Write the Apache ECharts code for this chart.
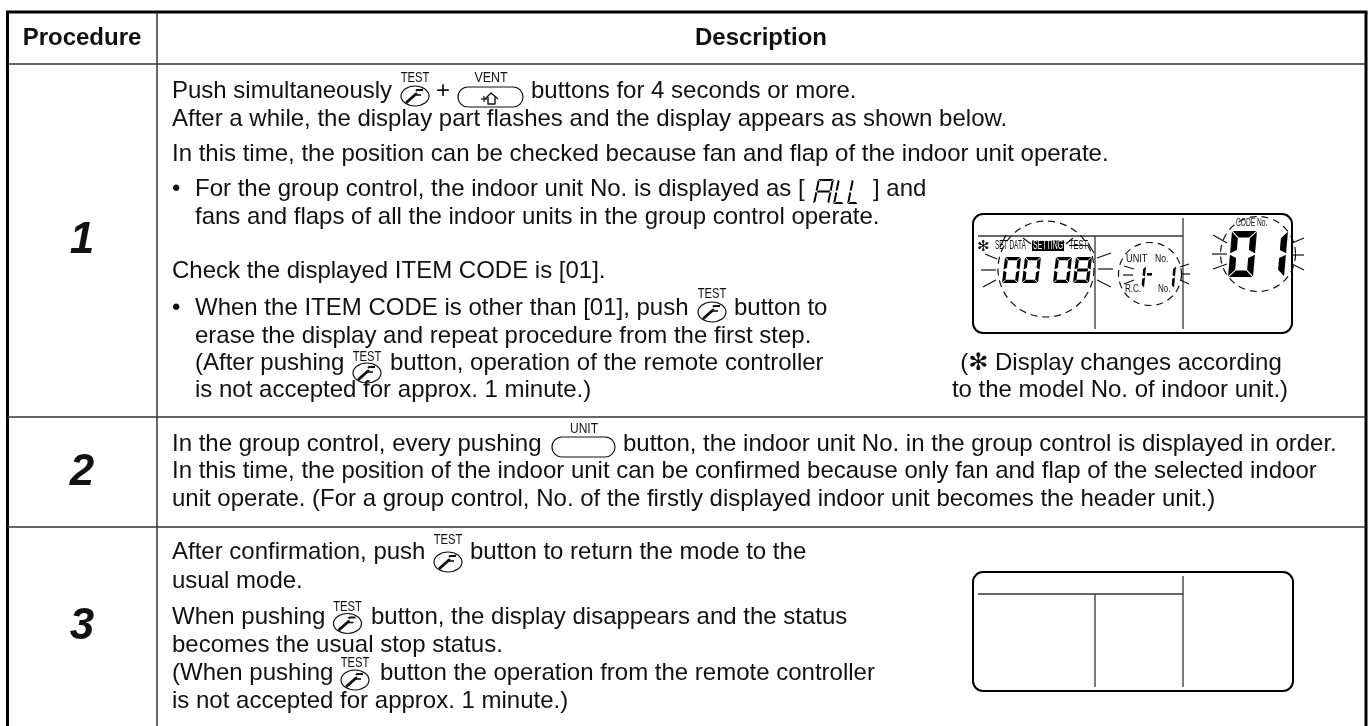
<!DOCTYPE html>
<html><head><meta charset="utf-8">
<style>html,body{margin:0;padding:0;background:#fff}#c{width:1369px;height:726px}</style>
<script src="https://cdn.jsdelivr.net/npm/echarts@6/dist/echarts.min.js"></script>
</head><body><div id="c"></div>
<script>
// ---- content ----
const headers = ['Procedure', 'Description'];
const stepNumbers = ['1', '2', '3'];
const bodyText = [
  'Push simultaneously', '+', 'buttons for 4 seconds or more.',
  'After a while, the display part flashes and the display appears as shown below.',
  'In this time, the position can be checked because fan and flap of the indoor unit operate.',
  '•', 'For the group control, the indoor unit No. is displayed as [', '] and',
  'fans and flaps of all the indoor units in the group control operate.',
  'Check the displayed ITEM CODE is [01].',
  '•', 'When the ITEM CODE is other than [01], push', 'button to',
  'erase the display and repeat procedure from the first step.',
  '(After pushing', 'button, operation of the remote controller',
  'is not accepted for approx. 1 minute.)',
  'In the group control, every pushing', 'button, the indoor unit No. in the group control is displayed in order.',
  'In this time, the position of the indoor unit can be confirmed because only fan and flap of the selected indoor',
  'unit operate. (For a group control, No. of the firstly displayed indoor unit becomes the header unit.)',
  'After confirmation, push', 'button to return the mode to the',
  'usual mode.',
  'When pushing', 'button, the display disappears and the status',
  'becomes the usual stop status.',
  '(When pushing', 'button the operation from the remote controller',
  'is not accepted for approx. 1 minute.)'
];
const noteText = ['(\u273B Display changes according', 'to the model No. of indoor unit.)'];
const lcdDigits = ['0008', '1-1', '01'];
const allGlyphs = 'ALL';
// ---- layout, kept apart from the content ----
const bodyPos = [
 [172,100],[436,100],[531,100],[172,128],[172,163],
 [172,198],[195,198],[873,198],[195,226],[172,280],
 [172,317],[195,317],[734,317],[195,345],[195,372],[390,372],[195,399],
 [172,453],[623,453],[172,480],[172,508],
 [172,561],[470,561],[172,590],[172,626],[371,626],[172,654],[172,682],[380,682],[172,710]
];
const g = [];
const FONT = '"Liberation Sans", Arial, "DejaVu Sans", sans-serif';
const INK = '#111';
function text(s, x, y, size, o) {
  o = o || {};
  // y is the alphabetic baseline; the renderer bottom-aligns the em box
  g.push({type:'text', x, y:y+0.154*size, scaleX:o.sx||1, z:o.z||5, style:{x:0,y:0,text:s,fill:o.fill||INK,
    font:(o.style||'normal')+' '+(o.weight||'normal')+' '+size+'px '+FONT,
    textAlign:o.align||'left', textVerticalAlign:'bottom'}});
}
function line(pts, w, color, o) {
  o = o||{};
  g.push({type:'polyline', z:o.z||3, shape:{points:pts}, style:{stroke:color||INK, lineWidth:w||1, fill:null, lineDash:o.dash||null, lineCap:o.cap||'butt', lineJoin:'round'}});
}
function rrect(x,y,w,h,r,lw,o) {
  o=o||{};
  g.push({type:'rect', z:o.z||3, shape:{x,y,width:w,height:h,r}, style:{stroke:o.stroke===undefined?INK:o.stroke, lineWidth:lw, fill:o.fill||'none'}});
}
function wrench(cx,cy){
  line([[cx-8,cy+6],[cx+1,cy-2]],3,INK,{cap:'round',z:6});
  line([[cx+1,cy-5],[cx+2,cy-6],[cx+8,cy-6]],2,INK,{z:6});
  line([[cx+1,cy-1],[cx+6,cy-1]],1.6,INK,{z:6});
}
function testBtn(cx, ellY, labelBase) {
  text('TEST', cx, labelBase, 14, {align:'center', sx:0.8});
  g.push({type:'ellipse', z:6, shape:{cx, cy:ellY, rx:14, ry:10}, style:{stroke:INK, lineWidth:1.2, fill:'none'}});
  wrench(cx, ellY);
}
function longBtn(x,y,w,h,label,lx,lb,sx) {
  rrect(x,y,w,h,h/2,1.2);
  text(label, lx, lb, 14, {align:'center', sx});
}
// 7-segment digit: segments a b c d e f g
const SEG = {'0':'abcdef','1':'bc','8':'abcdefg','-':'g','A':'abcefg','L':'def'};
function seven(ch, x, y, w, h, t, skew, gap) {
  const sk = (px,py)=>[px + skew*(y+h-py)/h, py];
  const m = y+h/2, r=x+w, b=y+h;
  const gp = gap===undefined?0.6:gap;
  const P = {
    a:[[x+gp,y],[r-gp,y],[r-t-gp,y+t],[x+t+gp,y+t]],
    d:[[x+t+gp,b-t],[r-t-gp,b-t],[r-gp,b],[x+gp,b]],
    g:[[x+t*0.8,m-t/2],[r-t*0.8,m-t/2],[r-t*0.8,m+t/2],[x+t*0.8,m+t/2]],
    f:[[x,y+gp],[x+t,y+t+gp],[x+t,m-t/2-gp],[x,m-gp]],
    e:[[x,m+gp],[x+t,m+t/2+gp],[x+t,b-t-gp],[x,b-gp]],
    b:[[r,y+gp],[r,m-gp],[r-t,m-t/2-gp],[r-t,y+t+gp]],
    c:[[r,m+gp],[r,b-gp],[r-t,b-t-gp],[r-t,m+t/2+gp]]
  };
  for (const s of SEG[ch]) {
    g.push({type:'polygon', z:4, shape:{points:P[s].map(p=>sk(p[0],p[1]))}, style:{fill:'#000'}});
  }
}
// ---- table ----
const T_L=7.5, T_R=1366, T_T=12, T_C=157, T_B=726;
line([[T_L,T_T],[T_L,T_B]],3,'#000');
line([[T_R,T_T],[T_R,T_B]],3,'#000');
line([[T_L-1.5,T_T],[T_R+1.5,T_T]],3,'#000');
line([[T_C,T_T],[T_C,T_B]],1.5,'#333');
[64,417,527].forEach(y=>line([[T_L,y],[T_R,y]],1.5,'#333'));
text(headers[0], 82, 47, 24, {weight:'bold', align:'center'});
text(headers[1], 761, 47, 24, {weight:'bold', align:'center'});
[[82,256],[82,488],[82,642]].forEach((p,i)=>text(stepNumbers[i],p[0],p[1],44,{weight:'bold',style:'italic',align:'center'}));
bodyText.forEach((s,i)=>text(s,bodyPos[i][0],bodyPos[i][1],24));
// inline buttons
testBtn(415,96,83);
longBtn(458,87,65,20,'VENT',491,83,0.89);
// house icon
line([[485,99],[491,93],[498,99]],1.4);
line([[488,97],[488,104],[495,104],[495,97]],1.4);
line([[481,99],[487,99]],1.2,INK);line([[484,96],[484,102]],1.2,INK);
testBtn(712,312,299);
testBtn(367,373,362);
longBtn(552,437,63,20,'UNIT',584,434,0.86);
testBtn(448,562,545);
testBtn(347.5,623.5,612);
testBtn(355,680,668);
// ALL glyphs in the sentence
seven(allGlyphs[0],813,179,16,25,2,5,0.5);
seven(allGlyphs[1],833,179,11,25,2,5,0.5);
seven(allGlyphs[2],847,179,11,25,2,5,0.5);
// ---- LCD panels ----
function panel(x,y,hLine,v1,v2,w,h){
  rrect(x,y,w,h,10,2,{stroke:'#000'});
  line([[x+5,hLine],[v2,hLine]],1.3,'#333');
  line([[v1,hLine],[v1,y+h-4]],1.3,'#333');
  line([[v2,y+4],[v2,y+h-4]],1.3,'#333');
}
panel(973,214,236,1095,1183,319,119);
panel(973,572,594,1095,1183,320,119);
// dashed circles
[[1046,269,48],[1150,274,31.5],[1258,254,37.5]].forEach(c=>{
  g.push({type:'circle',z:3,shape:{cx:c[0],cy:c[1],r:c[2]},style:{stroke:INK,fill:'none',lineWidth:1.2,lineDash:[7,5]}});
});
// flash rays (read in picture pixels)
[[[985,254],[997,259]],[[981,270],[996,270]],[[983,287],[996,280]],
 [[1097,258],[1111,253]],[[1098,269],[1113,269]],[[1097,280],[1111,287]],
 [[1124,266],[1134,269]],[[1123,275],[1133,275]],[[1124,284],[1134,280]],
 [[1180,267],[1189,264]],[[1181,274],[1190,274]],[[1180,280],[1189,284]],
 [[1213,235],[1227,243]],[[1212,254],[1227,254]],[[1213,269],[1227,264]],
 [[1292,243],[1304,238]],[[1293,255],[1304,255]],[[1292,264],[1304,270]],
 [[1006,235],[1000,247]],[[1023,238],[1031,244]],[[1073,238],[1066,244]],[[1088,243],[1094,253]]
].forEach(l=>line(l,1.2));
// LCD labels
text('SET DATA',995,250,12,{sx:0.54});
g.push({type:'rect',z:3,shape:{x:1032,y:240.5,width:32,height:10.5},style:{fill:'#000'}});
text('SETTING',1048,250,12,{sx:0.58,align:'center',fill:'#fff',z:6});
text('TEST',1069,250,12,{sx:0.62});
line([[1069,245.5],[1088,245.5]],1);
text('\u273B',977,252,15,{align:'left',weight:'bold'});
text('UNIT',1126,263,11.5,{sx:0.8});
text('No.',1155,263,11.5,{sx:0.75});
text('R.C.',1125,293,11.5,{sx:0.7});
text('No.',1158,293,11.5,{sx:0.69});
text('CODE No.',1236,227,10.5,{sx:0.63});
// LCD digits
const d0=lcdDigits[0];
[1002,1022,1053,1073].forEach((x,i)=>seven(d0[i],x,257,16,26,3.2,3,0.6));
seven(lcdDigits[1][0],1137,266,7,22,2.6,2,0.4);
g.push({type:'rect',z:4,shape:{x:1147,y:273,width:5,height:2.6},style:{fill:'#000'}});
seven(lcdDigits[1][2],1167,266,7,22,2.6,2,0.4);
seven(lcdDigits[2][0],1228,231,25,46,6.5,4,0.8);
seven(lcdDigits[2][1],1277,231,7,46,6.5,4,0.8);
// note
text(noteText[0],1121,372,24,{align:'center'});
text(noteText[1],1120,399,24,{align:'center'});

const chart = echarts.init(document.getElementById('c'), null, {renderer:'canvas'});
chart.setOption({animation:false, backgroundColor:'#fff', graphic:{elements:g}});
</script></body></html>
